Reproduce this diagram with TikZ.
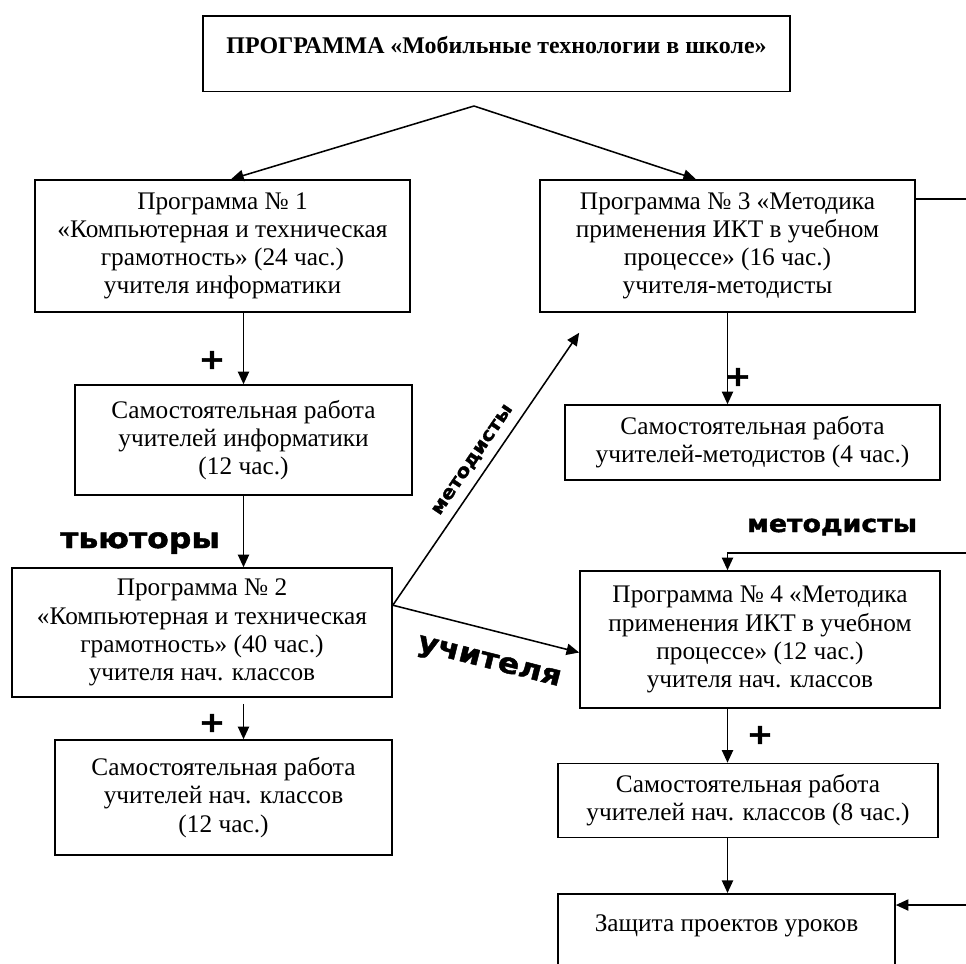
\documentclass[tikz,border=0pt]{standalone}
\usepackage{fontspec}
\setmainfont{Liberation Serif}
\newfontfamily\labelfont[FakeStretch=1.12, FakeBold=1.6]{DejaVu Sans}
\usetikzlibrary{positioning}
\usetikzlibrary{arrows.meta,calc}

\tikzset{
  box/.style={draw, line width=1.1pt, align=center, inner sep=0pt, font=\fontsize{18}{20}\selectfont},
  arr/.style={-{Triangle[length=9pt,width=8pt]}, line width=1.1pt},
  lbl/.style={font=\labelfont\bfseries\fontsize{#1}{#1}\selectfont, inner sep=1pt},
  lbl/.default=17,
  plus/.style={font=\labelfont\bfseries\fontsize{20}{20}\selectfont, inner sep=0pt}
}

\begin{document}
\begin{tikzpicture}[x=0.025cm, y=-0.025cm]
		\useasboundingbox (0,0) rectangle (966,963);
		\clip (0,0) rectangle (966,963);
		\node (top) [box, anchor=north, minimum width=14.675cm, text height=0.94cm, text depth=0.95cm, font=\bfseries\fontsize{17}{20}\selectfont] at (496.5,15) {ПРОГРАММА «Мобильные технологии в школе»};
		\coordinate (apex) at (474,106);
		\node (p1) [box, minimum width=9.375cm, minimum height=3.3cm] at (222.5,246) {Программа № 1\\«Компьютерная и техническая\\грамотность» (24 час.)\\учителя информатики};
		\node (p3) [box, minimum width=9.375cm, minimum height=3.3cm] at (727.5,246) {Программа № 3 «Методика\\применения ИКТ в учебном\\процессе» (16 час.)\\учителя-методисты};
		\node (s1) [box, minimum width=8.425cm, minimum height=2.75cm] at (243.5,440) {Самостоятельная работа\\учителей информатики\\(12 час.)};
		\node (p2) [box, minimum width=9.5cm, minimum height=3.225cm] at (202,632.5) {Программа № 2\\«Компьютерная и техническая\\грамотность» (40 час.)\\учителя нач. классов};
		\node (s2) [box, minimum width=8.425cm, minimum height=2.875cm] at (223.5,797.5) {Самостоятельная работа\\учителей нач. классов\\(12 час.)};
		\node (s3) [box, minimum width=9.375cm, minimum height=1.875cm] at (752.5,442.5) {Самостоятельная работа\\учителей-методистов (4 час.)};
		\node (p4) [box, minimum width=9cm, minimum height=3.425cm] at (760,639.5) {Программа № 4 «Методика\\применения ИКТ в учебном\\процессе» (12 час.)\\учителя нач. классов};
		\node (s4) [box, minimum width=9.5cm, minimum height=1.85cm] at (748,800.5) {Самостоятельная работа\\учителей нач. классов (8 час.)};
		\node (def) [box, anchor=north, minimum width=8.425cm, text height=0.93cm, text depth=2cm] at (726.5,893) {Защита проектов уроков};
		\node (tut) [lbl=20, anchor=base] at (140,548) {тьюторы};
		\node (met) [lbl=17, anchor=base] at (832,532) {методисты};
		\node (pl1) [plus] at (212,360) {+};
		\node (pl2) [plus] at (212,723) {+};
		\node (pl3) [plus] at (738,377) {+};
		\node (pl4) [plus] at (760,735) {+};
		\coordinate (fork) at ($(p2.north east)+(0,38)$);
		\coordinate (rt1) at ($(p3.north east)+(70,20)$);
		\coordinate (rt2) at (980,553);
		\coordinate (rt3) at (980,905);
		\draw [arr] (apex) -- ($(p1.north)+(8.5,0)$);
		\draw [arr] (apex) -- ($(p3.north)+(-31.5,0)$);
		\draw [arr] (p1.south -| s1.north) -- (s1.north);
		\draw [arr] (s1.south) -- (s1.south |- p2.north);
		\draw [arr] ($(p2.south -| s1.south)+(0,6)$) -- (s2.north -| s1.south);
		\draw [arr] (p3.south) -- (s3.north -| p3.south);
		\draw [arr] (fork) -- node[lbl=13, sloped, above=5pt] {методисты} ($(p3.south west)+(40,20)$);
		\draw [arr] (fork) -- node[lbl=20, sloped, below=14pt, xshift=8pt] {учителя} ($(p4.west)+(0,13)$);
		\draw [line width=1.1pt] ($(p3.north east)+(0,20)$) -- (rt1);
		\draw [arr] (rt2) -| (p4.north -| p3.south);
		\draw [arr] (p4.south -| p3.south) -- (s4.north -| p3.south);
		\draw [arr] (s4.south -| p3.south) -- (def.north -| p3.south);
		\draw [arr] (rt3) -- (rt3 -| def.east);
\end{tikzpicture}
\end{document}
